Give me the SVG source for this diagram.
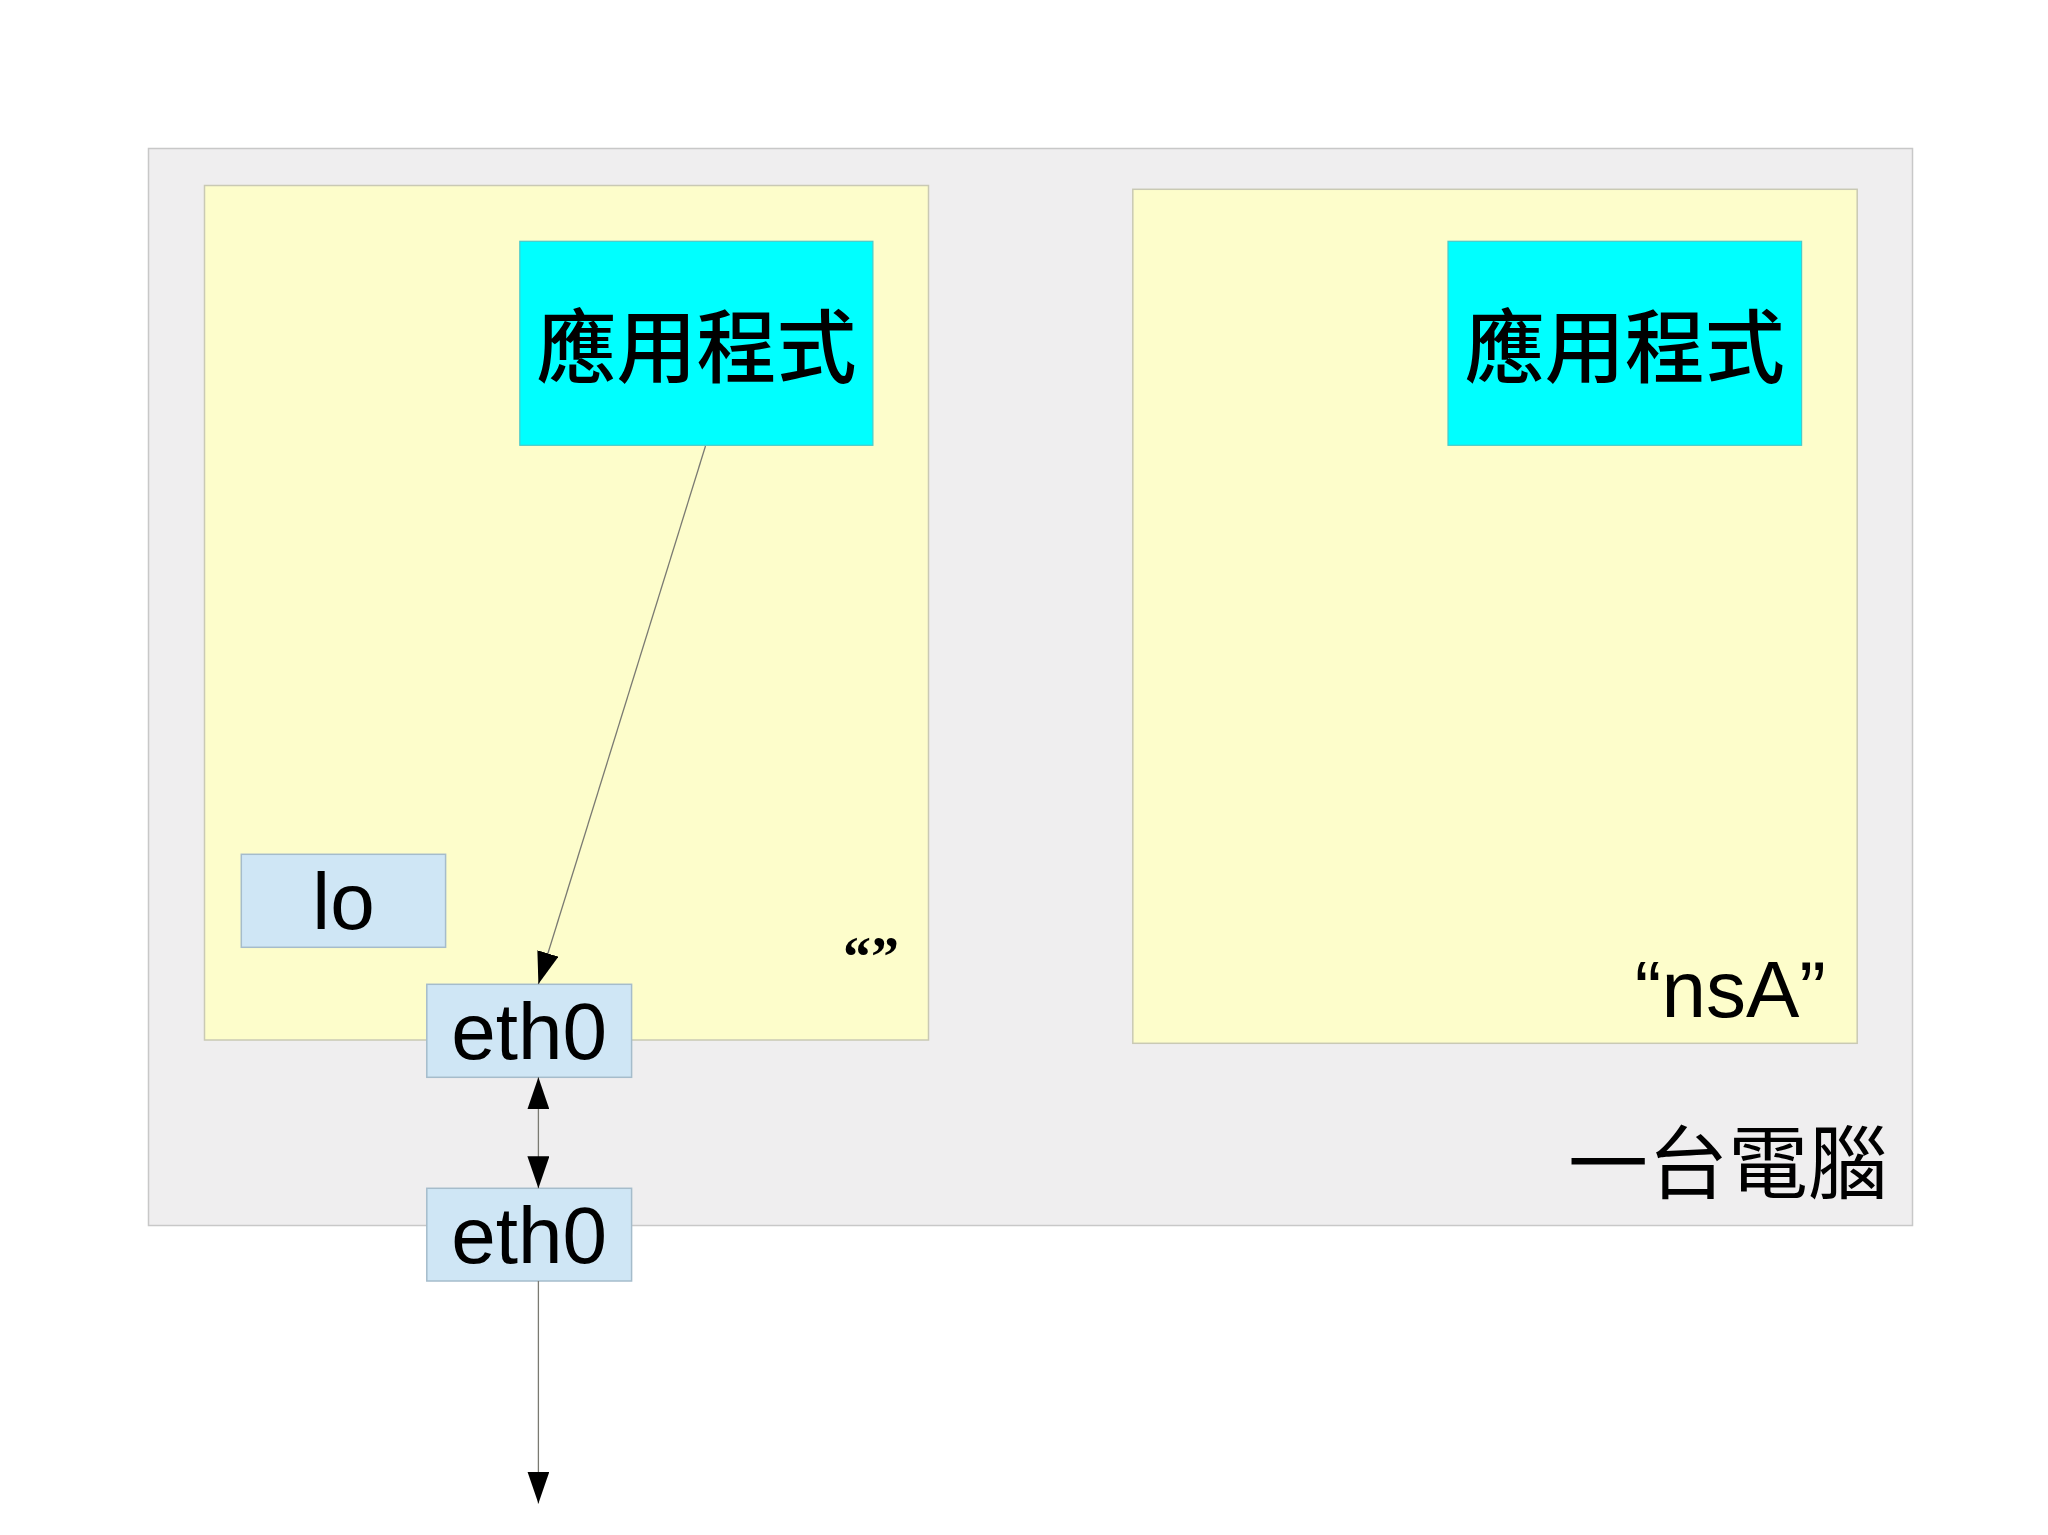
<svg xmlns="http://www.w3.org/2000/svg" width="2048" height="1535" viewBox="0 0 2048 1535">
<style>
.computer{fill:#efeeef;stroke:#c8c8c8;stroke-width:1.5}
.ns{fill:#fdfdcb;stroke:#c9c9b4;stroke-width:1.5}
.app{fill:#00ffff;stroke:#4cc9c9;stroke-width:1.2}
.nic{fill:#cfe6f5;stroke:#a5bccb;stroke-width:1.5}
.cjk{font-family:"Noto Sans CJK TC","Noto Sans CJK SC",sans-serif;font-size:80px;fill:#000}
.medium{font-weight:500}
.lat{font-family:"Liberation Sans",Arial,sans-serif;font-size:80px;fill:#000}
.conn{stroke:#7a7a72;stroke-width:1.3;fill:none}
</style>
<defs>
<marker id="arr" viewBox="0 0 32 22" refX="32" refY="11" markerWidth="32" markerHeight="22" markerUnits="userSpaceOnUse" orient="auto-start-reverse">
<path d="M0,0 L32,11 L0,22 z" fill="#000"/>
</marker>
</defs>
<rect width="2048" height="1535" fill="#ffffff"/>
<g id="computer">
<rect class="computer" x="148.5" y="148.5" width="1764" height="1077"/>
<text class="cjk" x="1888" y="1192" text-anchor="end">一台電腦</text>
</g>
<g id="ns-default">
<rect class="ns" x="204.5" y="185.5" width="724" height="854.5"/>
<text x="843" y="976" font-family="Liberation Serif,serif" font-weight="bold" font-size="56" fill="#000">“”</text>
</g>
<g id="ns-nsA">
<rect class="ns" x="1132.8" y="189.3" width="724.4" height="854"/>
<text class="lat" x="1826" y="1017" text-anchor="end">“nsA”</text>
</g>
<g id="app-default">
<rect class="app" x="519.8" y="241.3" width="353.1" height="204"/>
<text class="cjk medium" x="696.4" y="375.5" text-anchor="middle">應用程式</text>
</g>
<g id="app-nsA">
<rect class="app" x="1448" y="241.3" width="353.6" height="204"/>
<text class="cjk medium" x="1624.8" y="375.5" text-anchor="middle">應用程式</text>
</g>
<g id="lo">
<rect class="nic" x="241.3" y="854.3" width="204.3" height="93"/>
<text class="lat" x="343.5" y="929.3" text-anchor="middle">lo</text>
</g>
<g id="eth0-inner">
<rect class="nic" x="426.8" y="984.3" width="204.8" height="93"/>
<text class="lat" x="529.2" y="1059.3" text-anchor="middle">eth0</text>
</g>
<g id="eth0-outer">
<rect class="nic" x="426.8" y="1188.3" width="204.8" height="92.7"/>
<text class="lat" x="529.2" y="1263.3" text-anchor="middle">eth0</text>
</g>
<g id="connectors">
<line class="conn" x1="705.5" y1="446" x2="538.4" y2="984" marker-end="url(#arr)"/>
<line class="conn" x1="538.4" y1="1077.3" x2="538.4" y2="1188.3" marker-start="url(#arr)" marker-end="url(#arr)"/>
<line class="conn" x1="538.4" y1="1281" x2="538.4" y2="1503.5" marker-end="url(#arr)"/>
</g>
</svg>
